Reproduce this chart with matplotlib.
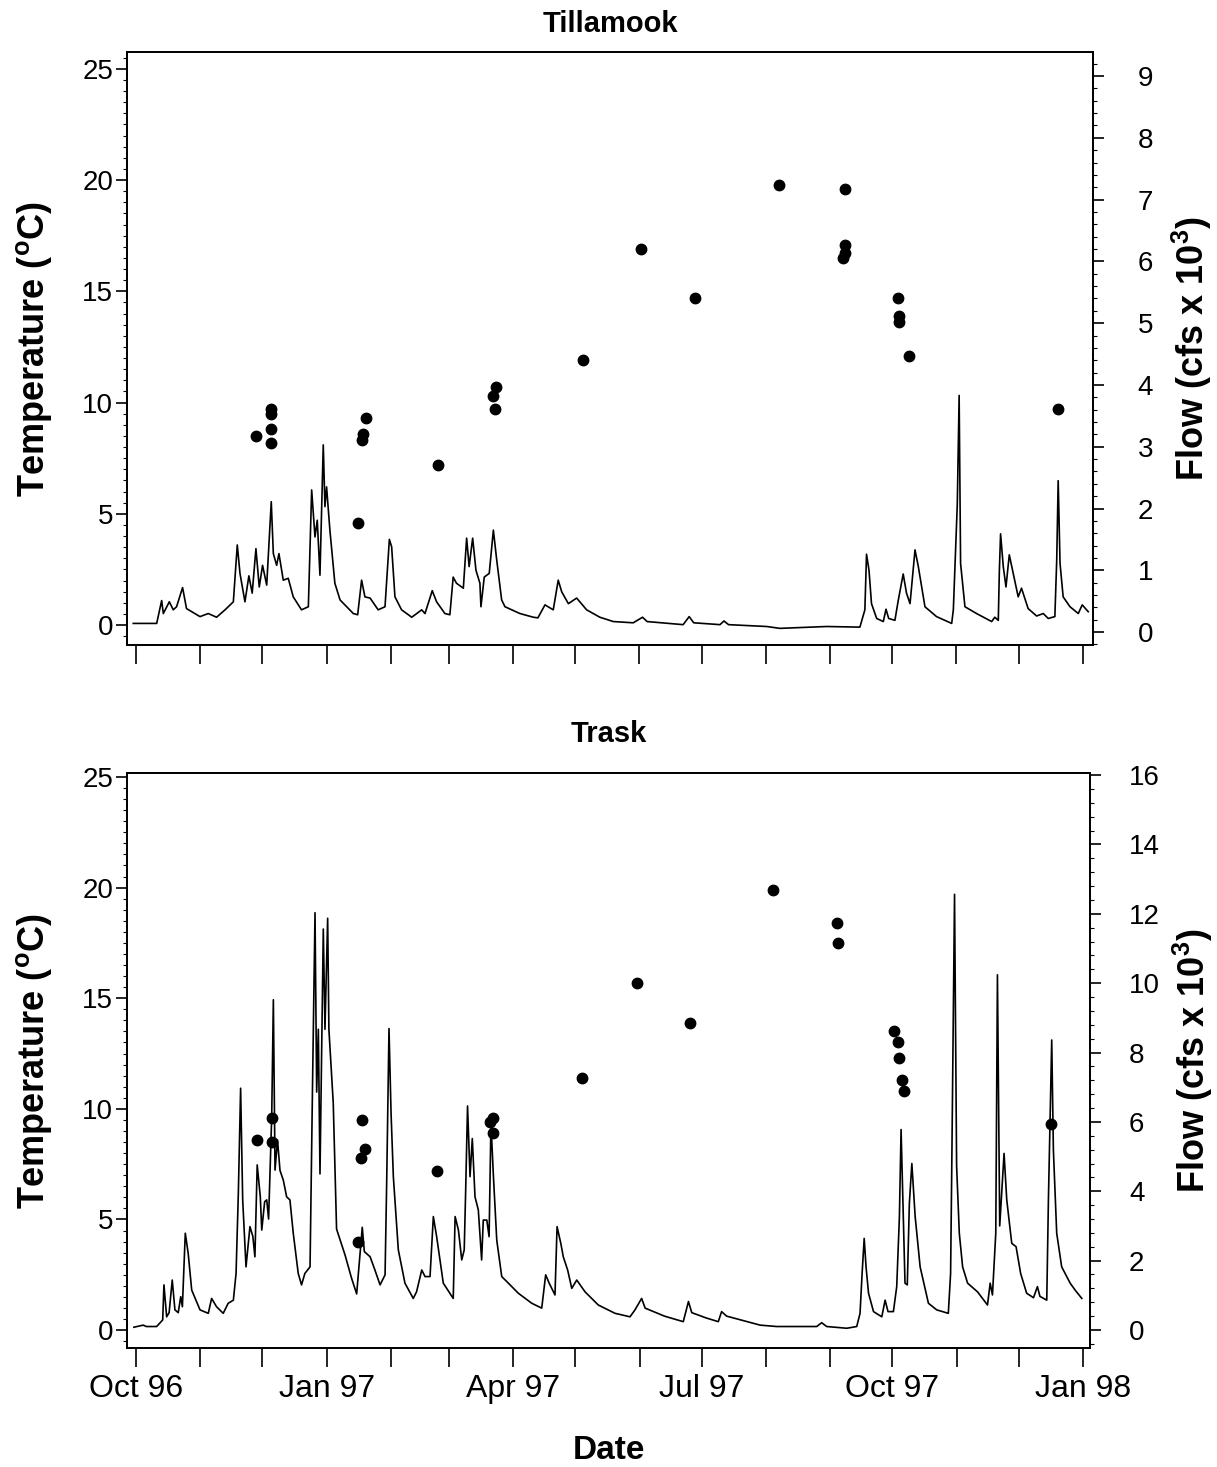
import datetime

import numpy as np
import matplotlib
matplotlib.use('Agg')
import matplotlib.pyplot as plt
import matplotlib.dates as mdates
from matplotlib.ticker import MultipleLocator

plt.rcParams['font.family'] = ['Liberation Sans', 'DejaVu Sans']
plt.rcParams['mathtext.fontset'] = 'custom'
plt.rcParams['mathtext.rm'] = 'Liberation Sans'
plt.rcParams['mathtext.bf'] = 'Liberation Sans:bold'

# day offsets are counted from 1 Oct 1996
start = datetime.datetime(1996, 10, 1)

# ---------------- Tillamook ----------------
till_flow_day = [-1.3, 10, 12.4, 13.2, 16.1, 18, 19.6, 22.5, 24.4, 30.9, 34.9, 38.9, 43, 47,
                 48.9, 50.2, 52.6, 54.5, 56.1, 57.9, 59.5, 61.1, 63.1, 65.3, 66.3, 67.9, 69,
                 71.1, 73.5, 75.9, 79.9, 83.2, 84.8, 86.4, 87.5, 88.8, 90.4, 91.2, 92, 93.6,
                 96, 98.5, 104.9, 107, 108.9, 110.5, 113, 116.9, 120.2, 122.3, 123.4, 125,
                 128.2, 133.1, 137.9, 139.5, 143, 145.1, 149.1, 151.5, 153.1, 154.7, 158,
                 159.6, 160.8, 162.5, 164.1, 166, 166.5, 168.1, 170.5, 172.5, 174.1, 176.5,
                 178.1, 185.3, 191.8, 194, 197.4, 201.4, 203.8, 205.5, 208.7, 212.7, 217.5,
                 223.9, 230.4, 240, 244.5, 246.7, 264.1, 267, 269.2, 281.9, 283.8, 286,
                 304.4, 310.8, 333.3, 349.4, 351.8, 352.6, 353.8, 355, 357.5, 360.7, 362,
                 363.3, 366.3, 367.9, 370.3, 371.9, 373.6, 376, 377.6, 380.8, 386.4, 393.7,
                 394.5, 396.4, 397.3, 398, 400.1, 405.7, 413, 414.5, 416.2, 416.7, 417.3,
                 418.6, 419.9, 421.5, 423.1, 425.8, 427.4, 430.6, 434.7, 437.9, 440.3,
                 443.5, 444.4, 445.1, 446, 447.5, 450.8, 454.8, 456.7, 459.6]
till_flow = [0.14, 0.14, 0.51, 0.30, 0.49, 0.36, 0.41, 0.72, 0.38, 0.25, 0.30, 0.24, 0.36, 0.49,
             1.41, 0.95, 0.49, 0.91, 0.63, 1.35, 0.73, 1.08, 0.76, 2.11, 1.27, 1.08, 1.27,
             0.84, 0.87, 0.57, 0.36, 0.41, 2.30, 1.54, 1.81, 0.92, 3.03, 2.03, 2.35, 1.65,
             0.79, 0.52, 0.30, 0.28, 0.84, 0.57, 0.55, 0.36, 0.41, 1.50, 1.38, 0.57,
             0.36, 0.24, 0.36, 0.30, 0.67, 0.49, 0.30, 0.28, 0.89, 0.79, 0.71,
             1.52, 1.06, 1.52, 1.00, 0.79, 0.41, 0.89, 0.95, 1.65, 1.17, 0.52,
             0.41, 0.30, 0.24, 0.23, 0.44, 0.36, 0.84, 0.65, 0.46, 0.55, 0.36,
             0.24, 0.17, 0.15, 0.24, 0.17, 0.12, 0.25, 0.15, 0.12, 0.18, 0.12,
             0.09, 0.06, 0.09, 0.08, 0.36, 1.26, 1.00, 0.46, 0.22, 0.17, 0.37,
             0.22, 0.19, 0.51, 0.94, 0.63, 0.46, 1.33, 1.06, 0.41, 0.25, 0.14,
             0.36, 2.06, 3.83, 1.11, 0.41, 0.30, 0.17, 0.24, 0.19, 0.98, 1.59,
             1.06, 0.73, 1.25, 1.00, 0.57, 0.71, 0.38, 0.26, 0.30, 0.22,
             0.25, 1.17, 2.45, 1.11, 0.57, 0.41, 0.30, 0.44, 0.33]
till_temp_day = [57.9, 65.3, 65.3, 65.3, 65.0, 107.1, 110.9, 109.7, 109.2, 145.6, 173.6, 172.3,
                 173.3, 215.7, 243.7, 269.8, 310.3, 342.2, 342.2, 342.2, 341.2, 367.8, 368.3,
                 368.3, 373.1, 445.0]
till_temp = [8.5, 9.7, 9.5, 8.8, 8.2, 4.6, 9.3, 8.6, 8.3, 7.2, 10.7, 10.3,
             9.7, 11.9, 16.9, 14.7, 19.8, 19.6, 17.1, 16.7, 16.5, 14.7, 13.9,
             13.6, 12.1, 9.7]

# ---------------- Trask ----------------
trask_flow_day = [-1, 3.5, 5, 10, 12.9, 13.5, 14.8, 16, 17.5, 18.8, 20.4, 21.6, 22.4, 23.8, 25.2,
                  26.9, 30.9, 34.9, 36.5, 38.9, 42.1, 44.5, 47, 48.3, 49.4, 50.5, 51.5, 53.1,
                  55, 56.4, 57.4, 58.5, 60, 60.7, 62.1, 63.1, 64, 65.5, 66.3, 67.1, 68.3, 69.5,
                  71.1, 72.7, 74.3, 75.9, 78.3, 79.9, 81.5, 84, 85.1, 86.4, 87.2, 88, 88.8,
                  90.4, 91.2, 92.5, 93.1, 95.2, 96.8, 100.9, 104, 106.5, 109.2, 110.2, 113,
                  115.3, 117.8, 120.2, 121, 122.1, 123.1, 124.2, 126.6, 129.8, 133.8, 135.4,
                  137.9, 139.5, 141.9, 143.5, 145.1, 148.3, 153.1, 154, 155.6, 157.2, 158.4,
                  159.1, 160, 161.2, 162.3, 163.6, 165.2, 166.8, 167.6, 169.3, 170.4, 171.3,
                  172.5, 174.1, 176.5, 179.7, 184.5, 191, 195.8, 197.7, 199.4, 202.2, 203.2,
                  205, 206.2, 208.3, 210.3, 212.7, 216.7, 223.1, 231.2, 238.4, 240.8, 244,
                  245.7, 255, 264.1, 266.6, 268.2, 275, 281, 282.6, 285, 301.2, 309.2, 328.5,
                  330.9, 333.3, 343, 347.8, 349.4, 350.4, 351.4, 352.3, 353.5, 355.9, 359.9,
                  361.5, 362.9, 365.5, 367.1, 368.4, 369.2, 370.3, 371.1, 372.2, 373.2, 374.4,
                  376, 378.4, 382.4, 386.4, 392, 393.1, 393.7, 395, 396, 397.3, 398.9, 401.3,
                  406.1, 410.9, 412.2, 413.3, 414.9, 415.7, 416.8, 418.9, 420.2, 422.6, 424.7,
                  426.9, 429.8, 433.1, 435, 436.2, 439.5, 440.3, 441.9, 442.7, 444.3, 446.7,
                  450.8, 453.2, 456.4]
trask_flow = [0.08, 0.14, 0.10, 0.10, 0.29, 1.30, 0.38, 0.50, 1.44, 0.58, 0.50, 0.96, 0.67, 2.79, 2.21,
              1.15, 0.58, 0.48, 0.91, 0.67, 0.48, 0.77, 0.86, 1.63, 3.94, 6.97, 3.75, 1.82,
              2.98, 2.70, 2.11, 4.76, 3.84, 2.88, 3.70, 3.75, 3.20, 6.15, 9.52, 4.61, 5.48, 4.60,
              4.32, 3.84, 3.75, 2.79, 1.63, 1.30, 1.63, 1.82, 6.63, 12.03, 6.86, 8.67, 4.50,
              11.56, 8.67, 11.87, 8.67, 6.54, 2.91, 2.16, 1.50, 1.04, 2.96, 2.26, 2.11,
              1.73, 1.30, 1.59, 4.32, 8.69, 6.24, 4.42, 2.31, 1.35, 0.91, 1.10,
              1.73, 1.54, 1.54, 3.27, 2.69, 1.35, 0.91, 3.27, 2.88, 2.02, 2.31,
              4.03, 6.46, 4.42, 5.52, 3.84, 3.46, 2.02, 3.17, 3.17, 2.69, 5.96,
              4.42, 2.59, 1.54, 1.35, 1.06, 0.77, 0.63, 1.59, 1.35, 1.01, 2.98,
              2.50, 2.11, 1.73, 1.20, 1.44, 1.10, 0.72, 0.48, 0.38, 0.58, 0.91,
              0.63, 0.40, 0.24, 0.82, 0.50, 0.35, 0.24, 0.53, 0.40, 0.14, 0.10, 0.10,
              0.21, 0.10, 0.05, 0.10, 0.48, 1.63, 2.64, 1.82, 1.06, 0.53, 0.38,
              0.86, 0.53, 0.53, 1.25, 3.27, 5.78, 3.17, 1.35, 1.30, 3.65, 4.80,
              3.27, 1.82, 0.77, 0.58, 0.48, 1.63, 4.90, 12.56, 4.73, 2.79, 1.82, 1.35,
              1.10, 0.72, 1.35, 1.01, 2.79, 10.24, 3.00, 5.09, 3.75, 2.50, 2.40,
              1.63, 1.06, 0.93, 1.25, 0.97, 0.86, 3.75, 8.36, 5.19, 2.79, 1.82,
              1.35, 1.15, 0.91]
trask_temp_day = [58.3, 65.5, 65.5, 109.2, 110.5, 108.4, 107.1, 145.1, 172.4, 170.8, 172.4, 215.1,
                  241.8, 267.4, 307.4, 338.3, 338.8, 366.0, 367.6, 368.2, 369.8, 370.8, 441.6]
trask_temp = [8.6, 9.6, 8.5, 9.5, 8.2, 7.8, 4.0, 7.2, 9.6, 9.4, 8.9, 11.4,
              15.7, 13.9, 19.9, 18.4, 17.5, 13.5, 13.0, 12.3, 11.3, 10.8, 9.3]

t0 = mdates.date2num(start)


def panel(rect, title, flow_day, flow, temp_day, temp, tlim, flim, fmax, fstep, fminor,
          xlim, show_dates, title_pad, rpad, rlabelpad):
    ax = fig.add_axes(rect)
    ax2 = ax.twinx()

    ax.plot(t0 + np.array(temp_day), temp, 'o', color='black', markersize=7.5, zorder=5)
    ax2.plot(t0 + np.array(flow_day), flow, '-', color='black', linewidth=1.2)

    ax.set_xlim(t0 + xlim[0], t0 + xlim[1])
    ax.set_ylim(*tlim)
    ax2.set_ylim(*flim)

    ax.set_yticks(np.arange(0, 26, 5))
    ax.yaxis.set_minor_locator(MultipleLocator(0.5))
    ax2.set_yticks(np.arange(0, fmax + 1, fstep))
    ax2.yaxis.set_minor_locator(MultipleLocator(fminor))

    ax.xaxis.set_major_locator(mdates.MonthLocator(bymonth=[1, 4, 7, 10]))
    ax.xaxis.set_minor_locator(mdates.MonthLocator())
    ax.xaxis.set_major_formatter(mdates.DateFormatter('%b %y'))

    for a in (ax, ax2):
        a.tick_params(which='major', direction='out', length=8, width=1.2, labelsize=20)
        a.tick_params(which='minor', direction='out', length=3, width=0.8)
        for s in a.spines.values():
            s.set_linewidth(1.3)
    ax.tick_params(axis='y', pad=2)
    ax2.tick_params(axis='y', which='major', pad=rpad)
    ax.tick_params(axis='x', which='both', length=14, width=1.2, pad=5, labelsize=23)
    if not show_dates:
        ax.tick_params(axis='x', labelbottom=False)

    ax.set_title(title, fontsize=21, fontweight='bold', pad=title_pad)
    ax.set_ylabel(r'Temperature ($\mathbf{^{o}}$C)', fontsize=26, fontweight='bold', labelpad=20)
    ax2.set_ylabel(r'Flow (cfs x 10$\mathbf{^{3}}$)', fontsize=26, fontweight='bold',
                   labelpad=rlabelpad)
    return ax


fig = plt.figure(figsize=(12.17, 14.67), dpi=100)

panel([0.1044, 0.5603, 0.7937, 0.4043], 'Tillamook', till_flow_day, till_flow,
      till_temp_day, till_temp, (-0.9, 25.76), (-0.21, 9.39), 9, 1, 0.2,
      (-4.3, 461.9), False, 14, 24, 12)
ax = panel([0.1044, 0.0811, 0.7913, 0.392], 'Trask', trask_flow_day, trask_flow,
           trask_temp_day, trask_temp, (-0.81, 25.18), (-0.52, 16.06), 16, 2, 0.4,
           (-4.3, 460.4), True, 22, 20, 8)
ax.set_xlabel('Date', fontsize=24, fontweight='bold', labelpad=22)

fig.savefig('out.png', dpi=100)
